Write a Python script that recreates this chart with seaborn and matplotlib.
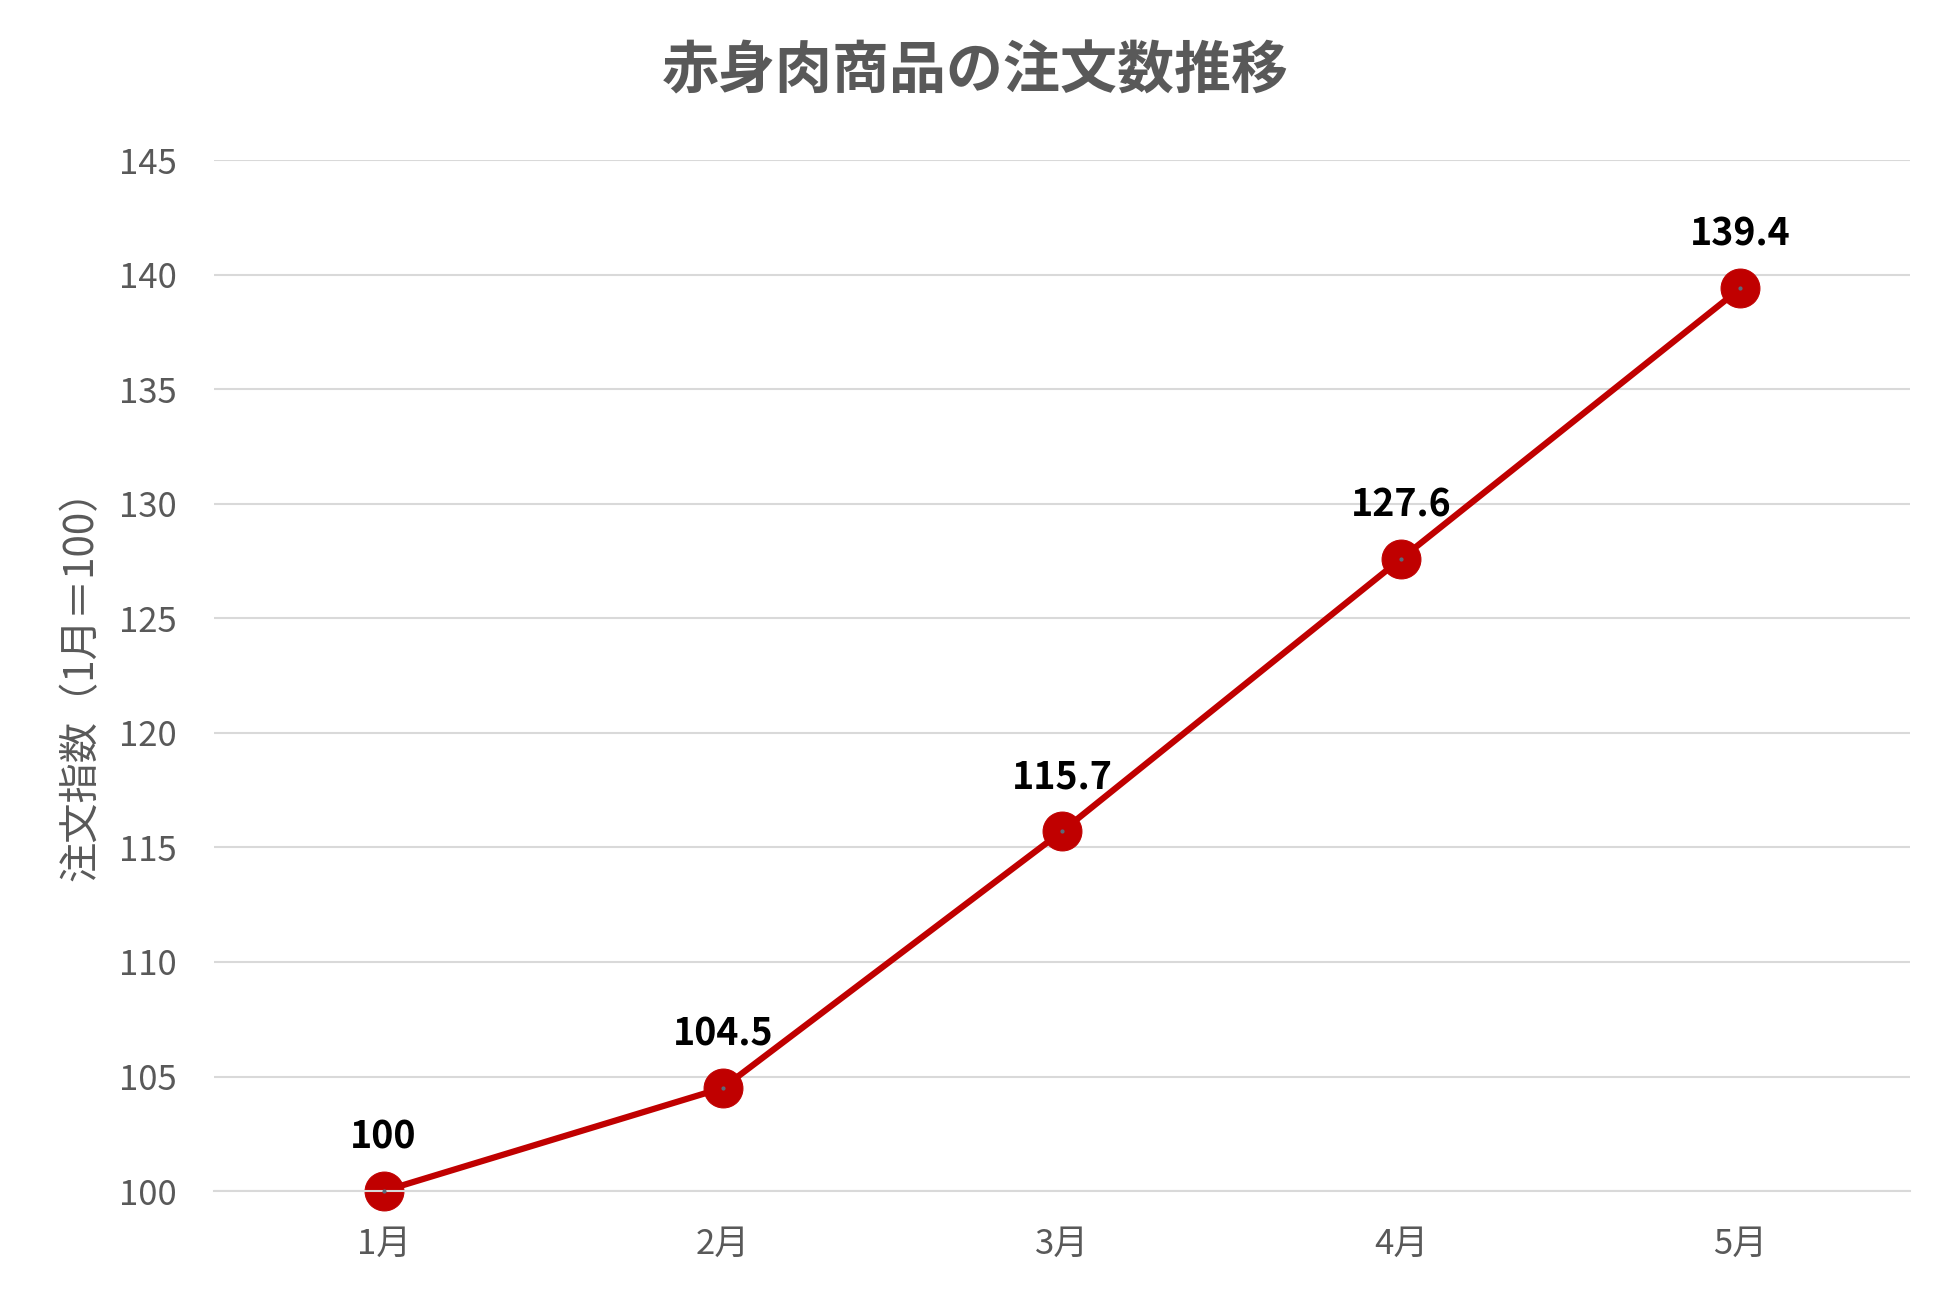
import matplotlib
matplotlib.use("Agg")
import matplotlib.pyplot as plt
import seaborn as sns
import pandas as pd

months = ["1月", "2月", "3月", "4月", "5月"]
order_index = [100, 104.5, 115.7, 127.6, 139.4]
value_labels = ["100", "104.5", "115.7", "127.6", "139.4"]
y_ticks = [100, 105, 110, 115, 120, 125, 130, 135, 140, 145]

df = pd.DataFrame({"month": months, "index": order_index})

sns.set_theme(style="white")
plt.rcParams['font.family'] = ['Noto Sans CJK JP', 'DejaVu Sans']

fig = plt.figure(figsize=(19.5, 13.01), dpi=100)
ax = fig.add_axes([0.1097, 0.0845, 0.8698, 0.7925])

red = "#C00000"
grey_text = "#595959"
grid_col = "#D9D9D9"

sns.lineplot(data=df, x="month", y="index", ax=ax, color=red, linewidth=4.5,
             marker="o", markersize=28, markeredgecolor=red, markerfacecolor=red,
             sort=False, clip_on=False)
# tiny dot in marker centre
ax.scatter(range(len(months)), order_index, s=4, color="#5a6a7a", zorder=5, clip_on=False)

for i, (v, lab) in enumerate(zip(order_index, value_labels)):
    ax.annotate(lab, (i, v), xytext=(0, 39), textcoords="offset points",
                ha="center", va="center", fontsize=27, fontweight="bold", color="black")

ax.set_xlim(-0.5, len(months) - 0.5)
ax.set_ylim(100, 145)
ax.set_yticks(y_ticks)
ax.yaxis.grid(True, color=grid_col, linewidth=1.5)
ax.set_axisbelow(True)
for s in ["top", "right", "left"]:
    ax.spines[s].set_visible(False)
ax.spines["bottom"].set_color(grid_col)
ax.spines["bottom"].set_linewidth(1.5)
ax.tick_params(axis="y", length=0, pad=27, labelsize=25, labelcolor=grey_text)
ax.tick_params(axis="x", length=0, pad=26, labelsize=25, labelcolor=grey_text)

ax.set_xlabel("")
ax.set_ylabel("注文指数（1月＝100）", fontsize=29, color=grey_text, labelpad=12)

fig.suptitle("赤身肉商品の注文数推移", fontsize=41, fontweight="bold",
             color=grey_text, y=0.945, va="center")

fig.savefig("out.png", dpi=100, facecolor="white")
